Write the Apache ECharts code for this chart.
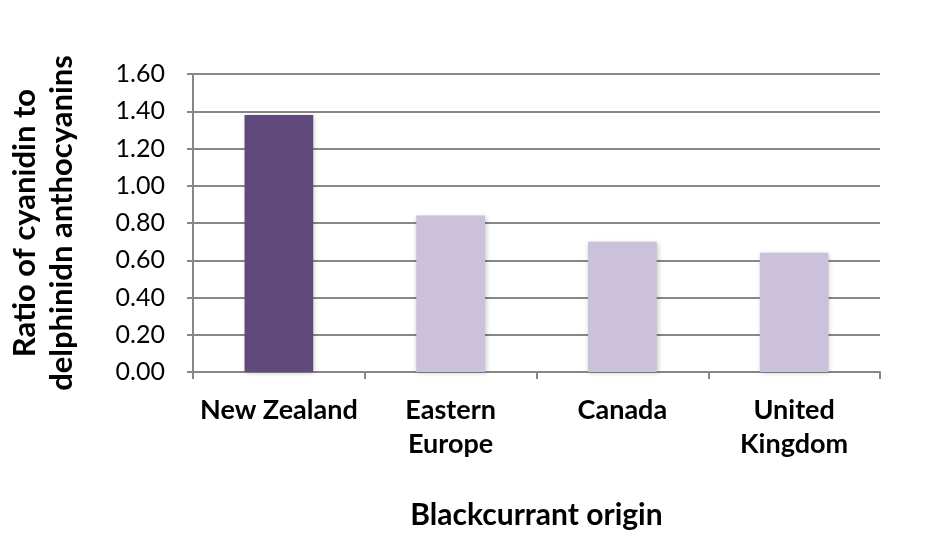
<!DOCTYPE html>
<html><head><meta charset="utf-8">
<script src="https://cdn.jsdelivr.net/npm/echarts@6/dist/echarts.min.js"></script>
<style>html,body{margin:0;padding:0;background:#fff}#c{width:934px;height:555px}</style>
</head><body><div id="c"></div>
<script>
const categories = ['New Zealand', 'Eastern\nEurope', 'Canada', 'United\nKingdom'];
const ratios = [1.38, 0.84, 0.70, 0.64];
const barColors = ['#604A7B', '#CCC1DA', '#CCC1DA', '#CCC1DA'];
const yTicks = { min: 0, max: 1.6, interval: 0.2 };
const font = 'Lato, "Open Sans", sans-serif';
const chart = echarts.init(document.getElementById('c'));
chart.setOption({
  animation: false,
  grid: { left: 193, right: 54, top: 74, bottom: 183, containLabel: false, outerBoundsMode: 'none' },
  xAxis: {
    type: 'category', data: categories,
    name: 'Blackcurrant origin', nameLocation: 'middle', nameGap: 128,
    nameTextStyle: { fontFamily: font, fontWeight: 'bold', fontSize: 30, color: '#000' },
    axisLine: { lineStyle: { color: '#878787', width: 2 } },
    axisTick: { show: true, interval: 0, length: 7, lineStyle: { color: '#878787', width: 2 } },
    axisLabel: { interval: 0, hideOverlap: false, fontFamily: font, fontWeight: 'bold', fontSize: 27, color: '#000', margin: 21, lineHeight: 34 }
  },
  yAxis: {
    type: 'value', min: yTicks.min, max: yTicks.max, interval: yTicks.interval,
    name: 'Ratio of cyanidin to\ndelphinidn anthocyanins', nameLocation: 'middle', nameGap: 113, nameRotate: 90,
    nameTextStyle: { fontFamily: font, fontWeight: 'bold', fontSize: 31, color: '#000', lineHeight: 37 },
    axisLine: { show: true, lineStyle: { color: '#878787', width: 2 } },
    axisTick: { show: true, length: 6, lineStyle: { color: '#878787', width: 2 } },
    splitLine: { lineStyle: { color: '#878787', width: 2 } },
    axisLabel: { fontFamily: font, fontSize: 25, color: '#000', margin: 28, formatter: v => v.toFixed(2) }
  },
  series: [{
    type: 'bar', barCategoryGap: '60%',
    data: ratios.map((v, i) => ({ value: v, itemStyle: { color: barColors[i] } })),
    itemStyle: { shadowColor: 'rgba(0,0,0,0.25)', shadowBlur: 5, shadowOffsetX: 1, shadowOffsetY: 1 }
  }]
});
</script></body></html>
